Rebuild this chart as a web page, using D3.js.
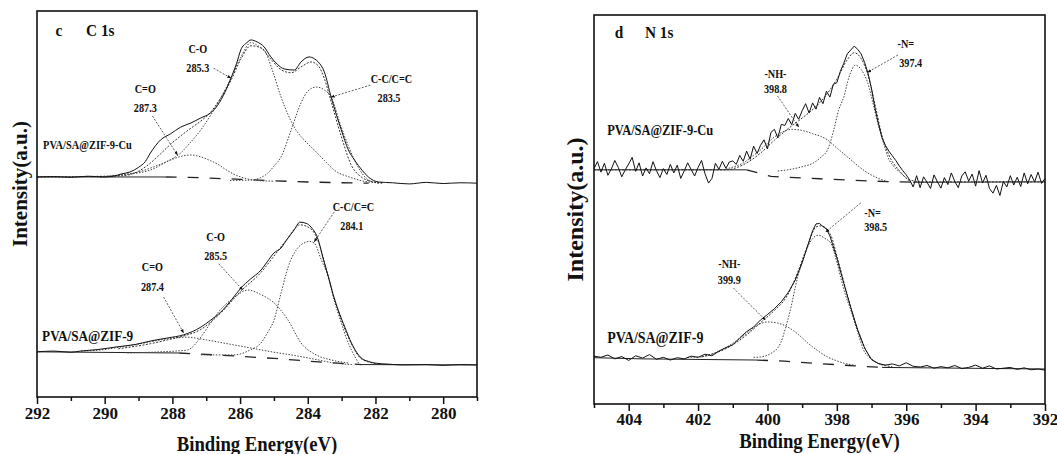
<!DOCTYPE html>
<html>
<head>
<meta charset="utf-8">
<script src="https://cdn.jsdelivr.net/npm/d3@7"></script>
<style>
  body { margin: 0; background: #fff; }
  svg text { font-family: "Liberation Serif", "Times New Roman", serif; font-weight: bold; fill: #111; }
</style>
</head>
<body>
<svg id="chart" width="1057" height="454"></svg>
<script>
// ---- C 1s (binding energy eV, intensity a.u.) ----
const c1sTicks = [292, 290, 288, 286, 284, 282, 280];
const c1sMinor = [291, 289, 287, 285, 283, 281, 279];

const c1sCuRaw = [[292.0,57.0],[291.5,57.1],[291.0,56.9],[290.5,57.2],[290.0,57.0],[289.7,57.3],[289.5,57.8],[289.25,58.3],[289.0,59.5],[288.8,61.0],[288.65,63.2],[288.35,66.6],[288.05,68.2],[287.76,69.9],[287.45,71.0],[287.16,72.3],[286.9,73.4],[286.72,74.9],[286.5,78.0],[286.27,82.6],[286.1,86.5],[285.98,89.9],[285.8,91.8],[285.68,92.5],[285.5,92.0],[285.29,90.7],[285.09,88.1],[284.9,86.2],[284.7,85.0],[284.4,84.7],[284.2,86.8],[283.96,88.1],[283.8,87.6],[283.69,86.8],[283.51,84.2],[283.31,77.7],[283.01,69.2],[282.8,64.0],[282.62,61.4],[282.4,58.8],[282.21,57.0],[281.91,55.7],[281.5,55.5],[281.0,55.2],[280.5,55.6],[280.0,55.3],[279.5,55.5],[279.0,55.4]];
const c1sCuFit = [[292,57.0],[289.5,57.3],[289.0,58.5],[288.65,60.6],[288.35,63.0],[288.05,65.5],[287.76,67.6],[287.46,69.6],[287.16,71.5],[286.87,73.8],[286.57,77.5],[286.27,82.0],[285.98,87.5],[285.68,91.0],[285.4,90.5],[285.09,87.5],[284.79,84.8],[284.49,84.0],[284.2,85.5],[283.9,86.8],[283.69,85.8],[283.51,82.5],[283.31,76.5],[283.01,67.5],[282.71,60.0],[282.42,57.0],[282.1,55.8],[281.8,55.4]];
const c1sCuCO = [[290.13,57.0],[289.54,57.5],[288.65,58.8],[288.2,60.8],[287.76,63.2],[287.46,66.0],[287.16,69.2],[286.87,73.0],[286.57,77.5],[286.27,82.6],[285.98,88.0],[285.68,91.8],[285.4,90.6],[285.29,89.9],[285.04,84.5],[284.79,77.7],[284.6,73.5],[284.40,69.9],[284.1,66.5],[283.81,64.0],[283.5,61.2],[283.22,58.8],[282.7,56.8],[282.21,55.7],[281.8,55.5]];
const c1sCuCC = [[286.3,56.1],[285.68,56.2],[285.4,56.8],[285.18,58.0],[285.0,59.8],[284.79,62.2],[284.49,69.2],[284.2,76.2],[284.0,79.2],[283.75,80.3],[283.5,79.5],[283.31,77.7],[283.01,69.9],[282.8,65.0],[282.62,61.4],[282.4,58.0],[282.21,56.2],[281.91,55.4]];
const c1sCuCdO = [[290.13,57.0],[289.54,57.5],[289.0,58.3],[288.65,59.3],[288.35,60.3],[288.05,61.4],[287.76,62.3],[287.46,62.7],[287.16,62.2],[286.87,61.2],[286.66,60.3],[286.4,58.8],[286.18,57.7],[285.98,57.0],[285.59,56.2],[285.0,55.9]];
const c1sCuBg = [[292,57.0],[288.2,57.0],[287.5,56.9],[286.0,56.4],[285.0,56.0],[284.0,55.7],[283.0,55.5],[282.2,55.4]];

const c1sRaw = [[292.0,11.7],[291.5,11.9],[291.0,11.6],[290.72,11.9],[290.2,12.3],[289.63,13.0],[289.1,13.6],[288.65,14.5],[288.14,15.3],[287.67,16.1],[287.16,18.1],[286.87,19.9],[286.57,22.0],[286.25,25.2],[285.98,28.2],[285.7,30.5],[285.38,32.9],[285.2,35.0],[285.0,37.3],[284.79,38.6],[284.6,41.0],[284.40,43.3],[284.23,45.3],[284.05,45.0],[283.90,44.0],[283.69,40.7],[283.55,36.0],[283.39,31.1],[283.25,26.5],[283.10,22.5],[282.9,18.0],[282.71,14.0],[282.55,11.5],[282.42,10.1],[282.2,9.2],[282.03,8.8],[281.6,8.5],[281.23,8.3],[280.5,8.4],[280.0,8.2],[279.5,8.4],[279.0,8.3]];
const c1sFit = [[289.6,12.5],[288.65,13.8],[288.14,14.8],[287.67,15.8],[287.16,17.5],[286.57,21.8],[285.98,27.4],[285.38,32.3],[285.0,36.5],[284.6,41.0],[284.23,44.6],[283.9,43.5],[283.69,40.3],[283.39,31.0],[283.1,22.3],[282.71,13.8],[282.42,9.9],[282.0,8.7]];
const c1sCC = [[287.16,10.9],[286.18,10.9],[285.7,12.2],[285.38,14.0],[285.2,16.5],[285.00,19.9],[284.79,26.9],[284.58,33.7],[284.35,38.0],[284.11,39.9],[283.95,40.3],[283.81,39.9],[283.6,35.5],[283.39,31.1],[283.22,25.1],[283.01,19.2],[282.85,15.0],[282.71,12.2],[282.50,8.8]];
const c1sCO = [[289.33,11.4],[288.35,11.7],[287.9,11.9],[287.55,12.2],[287.16,15.5],[286.9,18.8],[286.66,21.8],[286.2,25.6],[285.77,27.7],[285.4,26.6],[285.00,24.4],[284.58,19.9],[284.20,14.0],[283.75,10.9],[283.31,9.6],[282.80,8.8]];
const c1sCdO = [[290.7,11.9],[290.0,12.3],[289.5,13.0],[289.0,13.7],[288.65,14.3],[288.2,15.0],[287.6,15.5],[287.0,14.8],[286.5,14.0],[285.68,12.7],[285.0,11.6],[284.49,10.9],[283.8,9.8],[283.22,8.8],[282.7,8.4]];
const c1sBg = [[292,11.7],[287.8,11.4],[286.5,10.8],[285.0,10.0],[284.0,9.3],[283.0,8.7],[282.4,8.4],[279,8.3]];

// ---- N 1s ----
const n1sTicks = [404, 402, 400, 398, 396, 394, 392];
const n1sMinor = [405, 403, 401, 399, 397, 395, 393];

const n1sCuRaw = [[405.0,60.5],[404.9,62.3],[404.8,59.6],[404.7,61.9],[404.6,58.8],[404.5,60.4],[404.4,62.6],[404.3,60.8],[404.2,58.4],[404.1,60.2],[404.0,61.7],[403.9,63.4],[403.8,59.8],[403.7,62.0],[403.6,58.6],[403.5,60.7],[403.4,59.2],[403.3,62.3],[403.2,60.0],[403.1,58.2],[403.0,60.5],[402.9,59.0],[402.8,61.6],[402.7,59.4],[402.6,61.4],[402.5,58.0],[402.4,59.9],[402.3,62.0],[402.2,60.3],[402.1,58.6],[402.0,60.8],[401.9,62.6],[401.8,59.2],[401.7,56.8],[401.6,58.0],[401.5,61.9],[401.4,60.3],[401.3,62.4],[401.2,60.6],[401.1,62.2],[401.0,62.5],[400.9,61.6],[400.8,63.9],[400.7,62.4],[400.6,65.0],[400.5,62.9],[400.4,66.3],[400.3,64.4],[400.2,66.5],[400.1,67.9],[400.0,65.6],[399.9,69.8],[399.8,70.6],[399.7,68.4],[399.6,71.9],[399.5,71.6],[399.4,73.4],[399.3,71.8],[399.2,74.7],[399.1,73.2],[399.0,75.4],[398.9,77.2],[398.8,74.8],[398.7,77.4],[398.6,75.8],[398.5,78.8],[398.4,77.2],[398.3,80.4],[398.2,78.9],[398.1,82.2],[398.0,82.6],[397.9,85.5],[397.8,87.6],[397.7,90.0],[397.6,91.0],[397.5,92.0],[397.4,91.2],[397.3,90.0],[397.2,87.8],[397.1,85.0],[397.0,81.0],[396.9,76.0],[396.8,72.0],[396.7,68.5],[396.6,66.5],[396.5,65.0],[396.4,63.8],[396.3,62.6],[396.2,61.2],[396.1,60.0],[396.0,58.9],[395.9,57.6],[395.8,55.8],[395.7,58.7],[395.6,55.6],[395.5,58.4],[395.4,57.0],[395.3,55.4],[395.2,58.9],[395.1,57.1],[395.0,55.5],[394.9,58.2],[394.8,56.4],[394.7,59.4],[394.6,57.2],[394.5,55.6],[394.4,58.6],[394.3,59.7],[394.2,57.3],[394.1,59.1],[394.0,56.0],[393.9,60.0],[393.8,56.8],[393.7,58.8],[393.6,55.4],[393.5,54.2],[393.4,56.2],[393.3,53.6],[393.2,57.2],[393.1,55.8],[393.0,58.7],[392.9,56.3],[392.8,58.3],[392.7,55.9],[392.6,59.4],[392.5,56.6],[392.4,59.0],[392.3,57.1],[392.2,59.6],[392.1,56.7],[392.0,58.0]];
const n1sCuFit = [[405,60.2],[401.2,60.2],[400.7,61.5],[400.2,64.5],[399.8,67.8],[399.4,70.8],[399.0,73.5],[398.6,76.5],[398.3,79.5],[398.0,83.5],[397.7,88.5],[397.5,90.3],[397.3,88.8],[397.1,84.5],[396.9,77.0],[396.7,69.0],[396.5,64.0],[396.2,60.0],[395.9,57.6],[395.5,57.1],[392,57.1]];
const n1sCuN = [[399.7,59.9],[399.42,60.2],[399.0,61.0],[398.67,62.0],[398.45,63.5],[398.27,65.3],[398.09,70.4],[397.95,75.5],[397.80,78.9],[397.65,84.0],[397.46,87.1],[397.3,86.0],[397.11,82.5],[396.95,77.0],[396.82,72.2],[396.65,67.0],[396.53,63.5],[396.35,61.0],[396.16,59.4],[395.87,56.8]];
const n1sCuNH = [[401.2,60.4],[400.9,61.2],[400.69,62.0],[400.45,63.6],[400.20,65.3],[399.9,67.9],[399.62,69.7],[399.3,70.6],[399.05,70.4],[398.7,69.5],[398.27,67.9],[398.0,65.8],[397.69,63.5],[397.4,61.3],[397.11,59.4],[396.8,58.0],[396.53,57.1]];
const n1sCuBg = [[405,60.2],[400.6,60.2],[399.9,58.5],[398.5,57.9],[397.0,57.3],[395.8,57.0],[392,57.1]];

const n1sRaw = [[405.0,12.3],[404.8,12.0],[404.6,12.6],[404.4,11.6],[404.2,12.2],[404.0,11.2],[403.8,12.4],[403.6,11.8],[403.4,12.7],[403.2,11.5],[403.0,12.0],[402.8,11.3],[402.6,11.9],[402.4,11.6],[402.2,12.3],[402.0,12.0],[401.8,12.8],[401.6,12.4],[401.4,13.6],[401.2,14.5],[401.0,15.2],[400.8,17.0],[400.6,18.6],[400.4,19.8],[400.2,21.6],[400.0,23.0],[399.8,24.5],[399.6,26.3],[399.4,28.7],[399.2,31.8],[399.0,36.3],[398.8,41.8],[398.7,44.5],[398.6,46.3],[398.5,46.4],[398.4,45.6],[398.3,45.0],[398.2,43.2],[398.0,37.6],[397.8,31.0],[397.6,24.8],[397.4,19.0],[397.2,14.4],[397.0,11.4],[396.8,10.4],[396.6,10.0],[396.4,10.3],[396.2,9.8],[396.0,10.6],[395.8,9.7],[395.6,9.5],[395.4,9.9],[395.2,9.2],[395.0,9.6],[394.8,9.3],[394.6,9.9],[394.4,9.1],[394.2,9.4],[394.0,10.0],[393.8,9.2],[393.6,9.8],[393.4,9.0],[393.2,9.2],[393.0,9.4],[392.8,8.9],[392.6,9.3],[392.4,8.8],[392.2,9.0],[392.0,8.7]];
const n1sFit = [[401.9,12.1],[401.16,14.4],[400.58,17.9],[400.2,20.9],[399.83,23.8],[399.42,28.0],[399.13,33.8],[398.84,40.8],[398.6,45.5],[398.45,45.8],[398.18,43.5],[397.98,37.4],[397.69,27.8],[397.4,19.2],[397.1,12.8],[396.8,10.4],[396.4,9.6]];
const n1sN = [[400.4,12.0],[400.2,12.1],[399.9,13.0],[399.62,15.7],[399.48,19.5],[399.34,24.2],[399.13,32.6],[398.98,37.0],[398.84,40.4],[398.7,42.5],[398.53,43.4],[398.35,42.6],[398.18,41.4],[398.0,36.5],[397.89,32.6],[397.75,28.0],[397.60,24.2],[397.4,18.5],[397.23,13.9],[397.0,11.5],[396.82,10.5],[396.6,10.0]];
const n1sNH = [[402.3,12.0],[401.94,12.1],[401.5,13.2],[401.16,14.7],[400.85,16.5],[400.58,18.3],[400.3,20.2],[400.0,21.1],[399.7,20.8],[399.42,19.8],[399.1,17.8],[398.84,15.7],[398.55,13.7],[398.27,12.1],[398.0,11.1],[397.80,10.5],[397.5,10.0]];
const n1sBg = [[405,11.9],[403.6,11.6],[400.3,11.3],[399.5,11.0],[398.5,10.4],[397.5,9.8],[396.7,9.4],[392,9.0]];

// peak labels, placed in data coordinates
const c1sLabels = [
  { text: 'C=O', e: 288.80, i: 78.8 }, { text: '287.3', e: 288.80, i: 73.8 },
  { text: 'C-O', e: 287.25, i: 89.1 }, { text: '285.3', e: 287.25, i: 84.2 },
  { text: 'C-C/C=C', e: 281.53, i: 81.3 }, { text: '283.5', e: 281.6, i: 76.3 },
  { text: 'C=O', e: 288.59, i: 32.6 }, { text: '287.4', e: 288.59, i: 27.5 },
  { text: 'C-O', e: 286.72, i: 40.4 }, { text: '285.5', e: 286.72, i: 35.5 },
  { text: 'C-C/C=C', e: 282.65, i: 48.2 }, { text: '284.1', e: 282.70, i: 43.3 }
];
const c1sArrows = [
  [[288.59, 72.8], [287.85, 62.7]],
  [[286.78, 85.2], [286.27, 82.6]],
  [[282.15, 80.8], [283.31, 77.7]],
  [[288.26, 25.9], [287.67, 16.6]],
  [[286.63, 34.5], [285.92, 27.7]],
  [[283.22, 47.9], [283.81, 40.2]]
];
const n1sLabels = [
  { text: '-NH-', e: 399.77, i: 83.8 }, { text: '398.8', e: 399.77, i: 79.9 },
  { text: '-N=', e: 396.01, i: 91.5 }, { text: '397.4', e: 395.87, i: 86.6 },
  { text: '-NH-', e: 401.10, i: 35.0 }, { text: '399.9', e: 401.10, i: 30.8 },
  { text: '-N=', e: 396.97, i: 48.1 }, { text: '398.5', e: 396.88, i: 44.5 }
];
const n1sArrows = [
  [[399.71, 79.2], [399.10, 71.2]],
  [[396.24, 89.7], [397.11, 85.3]],
  [[400.98, 29.8], [400.06, 21.6]],
  [[397.31, 51.7], [398.32, 44.2]]
];

const svg = d3.select('#chart');
svg.append('defs').append('marker')
  .attr('id', 'arrow').attr('viewBox', '0 0 10 10').attr('refX', 9).attr('refY', 5)
  .attr('markerWidth', 5).attr('markerHeight', 5).attr('orient', 'auto')
  .append('path').attr('d', 'M0,1L10,5L0,9z').attr('fill', '#111');

function label(g, px, py, txt, size, anchor, sx) {
  return g.append('text')
    .attr('transform', `translate(${px},${py}) scale(${sx},1)`)
    .attr('text-anchor', anchor)
    .style('font-size', size + 'px')
    .text(txt);
}

function drawPanel(p) {
  const g = svg.append('g');
  const x = d3.scaleLinear().domain(p.domain).range([p.left, p.right]);
  const y = d3.scaleLinear().domain([0, 100]).range([p.bottom, p.top]);
  const line = d3.line().x(d => x(d[0])).y(d => y(d[1]));
  const smooth = d3.line().x(d => x(d[0])).y(d => y(d[1])).curve(d3.curveMonotoneX);

  p.spectra.forEach(s => {
    const hi = s.bg.filter(d => d[0] >= s.dash[0]);
    const mid = s.bg.filter(d => d[0] <= s.dash[0] && d[0] >= s.dash[1]);
    const lo = s.bg.filter(d => d[0] <= s.dash[1]);
    [hi, lo].forEach(part => {
      if (part.length > 1) g.append('path').attr('d', line(part))
        .attr('fill', 'none').attr('stroke', '#222').attr('stroke-width', 1);
    });
    g.append('path').attr('d', line(mid)).attr('fill', 'none')
      .attr('stroke', '#222').attr('stroke-width', 1.3).attr('stroke-dasharray', '11,11');

    s.comps.forEach(c => {
      g.append('path').attr('d', smooth(c)).attr('fill', 'none')
        .attr('stroke', '#444').attr('stroke-width', 1).attr('stroke-dasharray', '1.5,1.5');
    });
    g.append('path').attr('d', smooth(s.fit)).attr('fill', 'none')
      .attr('stroke', '#333').attr('stroke-width', 1).attr('stroke-dasharray', '2,1.5');
    g.append('path').attr('d', s.noisy ? line(s.raw) : smooth(s.raw)).attr('fill', 'none')
      .attr('stroke', '#111').attr('stroke-width', 1);
    label(g, x(s.name[1]), y(s.name[2]), s.name[0], s.nameSize, 'start', s.nameSx);
  });

  p.arrows.forEach(a => {
    g.append('line')
      .attr('x1', x(a[0][0])).attr('y1', y(a[0][1]))
      .attr('x2', x(a[1][0])).attr('y2', y(a[1][1]))
      .attr('stroke', '#333').attr('stroke-width', 0.8)
      .attr('stroke-dasharray', '2,1.5').attr('marker-end', 'url(#arrow)');
  });
  p.labels.forEach(l => label(g, x(l.e), y(l.i), l.text, p.labelSize, 'middle', 0.85));

  // frame
  g.append('rect').attr('x', p.left).attr('y', p.top)
    .attr('width', p.right - p.left).attr('height', p.bottom - p.top)
    .attr('fill', 'none').attr('stroke', '#111').attr('stroke-width', 1.6);

  const major = g.append('g').attr('transform', `translate(0,${p.bottom})`)
    .call(d3.axisBottom(x).tickValues(p.ticks).tickSize(7).tickPadding(p.tickPad).tickFormat(d3.format('d')));
  const minor = g.append('g').attr('transform', `translate(0,${p.bottom})`)
    .call(d3.axisBottom(x).tickValues(p.minor).tickSize(4).tickFormat(''));
  [major, minor].forEach(a => {
    a.select('.domain').remove();
    a.selectAll('line').attr('stroke', '#111').attr('stroke-width', 1.5);
  });
  major.selectAll('text').attr('fill', '#111')
    .style('font-family', '"Liberation Serif", serif').style('font-weight', 'bold')
    .style('font-size', p.tickSize + 'px');

  label(g, (p.left + p.right) / 2, p.xTitleY, 'Binding Energy(eV)', p.xTitleSize, 'middle', 0.85);
  g.append('text')
    .attr('transform', `translate(${p.yTitleX},${(p.top + p.bottom) / 2 + p.yTitleShift}) rotate(-90)`)
    .attr('text-anchor', 'middle').style('font-size', p.yTitleSize + 'px')
    .text('Intensity(a.u.)');
  label(g, x(p.tag[1]), y(p.tag[2]), p.tag[0], 17, 'start', 0.9);
  label(g, x(p.title[1]), y(p.title[2]), p.title[0], 17, 'start', 0.9);
}

drawPanel({
  domain: [292, 279], left: 37, right: 477, top: 11, bottom: 397,
  ticks: c1sTicks, minor: c1sMinor, tickSize: 17, tickPad: 3,
  xTitleY: 451, xTitleSize: 22, yTitleX: 27, yTitleSize: 21, yTitleShift: -20,
  tag: ['c', 291.45, 93.6], title: ['C 1s', 290.55, 93.6],
  labelSize: 12,
  spectra: [
    { raw: c1sCuRaw, fit: c1sCuFit, comps: [c1sCuCO, c1sCuCC, c1sCuCdO], bg: c1sCuBg, dash: [288.2, 282.2],
      name: ['PVA/SA@ZIF-9-Cu', 291.82, 64.2], nameSize: 13, nameSx: 0.8 },
    { raw: c1sRaw, fit: c1sFit, comps: [c1sCC, c1sCO, c1sCdO], bg: c1sBg, dash: [287.8, 282.4],
      name: ['PVA/SA@ZIF-9', 291.85, 14.5], nameSize: 15, nameSx: 0.88 }
  ],
  labels: c1sLabels, arrows: c1sArrows
});

drawPanel({
  domain: [405, 392], left: 594, right: 1045, top: 15, bottom: 404,
  ticks: n1sTicks, minor: n1sMinor, tickSize: 17, tickPad: 2,
  xTitleY: 448, xTitleSize: 22, yTitleX: 583, yTitleSize: 24, yTitleShift: 0,
  tag: ['d', 404.4, 94.0], title: ['N 1s', 403.53, 94.0],
  labelSize: 12,
  spectra: [
    { raw: n1sCuRaw, fit: n1sCuFit, comps: [n1sCuN, n1sCuNH], bg: n1sCuBg, dash: [400.6, 395.8], noisy: true,
      name: ['PVA/SA@ZIF-9-Cu', 404.62, 69.2], nameSize: 15, nameSx: 0.83 },
    { raw: n1sRaw, fit: n1sFit, comps: [n1sN, n1sNH], bg: n1sBg, dash: [400.3, 396.7], noisy: true,
      name: ['PVA/SA@ZIF-9', 404.62, 15.7], nameSize: 16, nameSx: 0.87 }
  ],
  labels: n1sLabels, arrows: n1sArrows
});
</script>
</body>
</html>
